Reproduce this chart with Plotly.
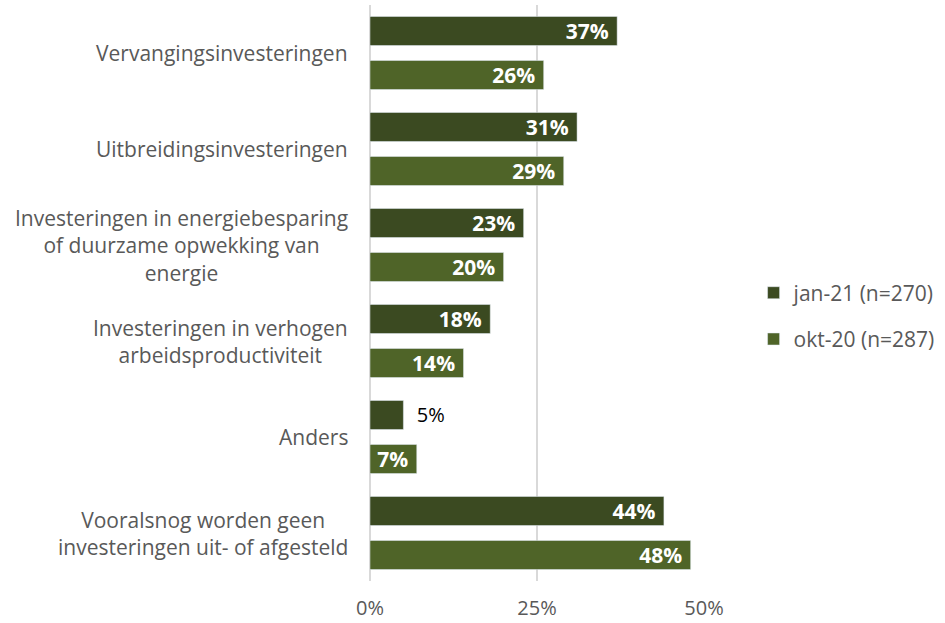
import plotly.graph_objects as go

categories = [
    "Vervangingsinvesteringen",
    "Uitbreidingsinvesteringen",
    "Investeringen in energiebesparing<br>of duurzame opwekking van<br>energie",
    "Investeringen in verhogen<br>arbeidsproductiviteit",
    "Anders",
    "Vooralsnog worden geen<br>investeringen uit- of afgesteld",
]
jan21 = [37, 31, 23, 18, 5, 44]
okt20 = [26, 29, 20, 14, 7, 48]

FONT = "Open Sans"
GREY = "#595959"
DARK = "#3B4A21"
LIGHT = "#4F6428"


def labels(values):
    # the smallest bar gets its label outside in plain text
    text = [f"<b>{v}%</b>\u00a0" if v > 5 else f"\u00a0\u00a0{v}%" for v in values]
    pos = ["inside" if v > 5 else "outside" for v in values]
    return text, pos


fig = go.Figure()
for name, vals, color, grp in [
    ("jan-21 (n=270)", jan21, DARK, "a"),
    ("okt-20 (n=287)", okt20, LIGHT, "b"),
]:
    text, pos = labels(vals)
    fig.add_trace(go.Bar(
        y=categories,
        x=vals,
        name=name,
        orientation="h",
        marker_color=color,
        text=text,
        textposition=pos,
        insidetextanchor="end",
        constraintext="none",
        insidetextfont=dict(color="white", size=21, family=FONT),
        outsidetextfont=dict(color="#000000", size=20, family=FONT),
        legendgroup=grp,
        cliponaxis=False,
    ))

for cat in categories:
    fig.add_annotation(
        x=0, xref="paper", y=cat, yref="y",
        text=cat, showarrow=False,
        xanchor="right", align="center", xshift=-20,
        font=dict(size=21, family=FONT, color=GREY),
    )

fig.update_layout(
    width=945,
    height=623,
    barmode="group",
    bargap=0.083,
    bargroupgap=0.34,
    plot_bgcolor="white",
    paper_bgcolor="white",
    font=dict(family=FONT, size=20, color=GREY),
    margin=dict(l=370, r=240, t=5, b=42),
    legend=dict(
        x=1.145, y=0.46, xanchor="left", yanchor="middle",
        traceorder="grouped", tracegroupgap=16,
        font=dict(size=21, color=GREY, family=FONT),
    ),
)
fig.update_xaxes(
    range=[0, 50], dtick=25, ticksuffix="%", automargin=False,
    showgrid=True, gridcolor="#D9D9D9", gridwidth=1.5,
    zeroline=True, zerolinecolor="#D9D9D9", zerolinewidth=1.5,
    ticks="outside", ticklen=9, tickcolor="rgba(0,0,0,0)",
    tickfont=dict(size=20, color=GREY),
)
fig.update_yaxes(autorange="reversed", showticklabels=False, showgrid=False,
                 automargin=False)

fig.write_html("out.html", config={"displayModeBar": False},
               post_script="document.body.style.margin='0';")
